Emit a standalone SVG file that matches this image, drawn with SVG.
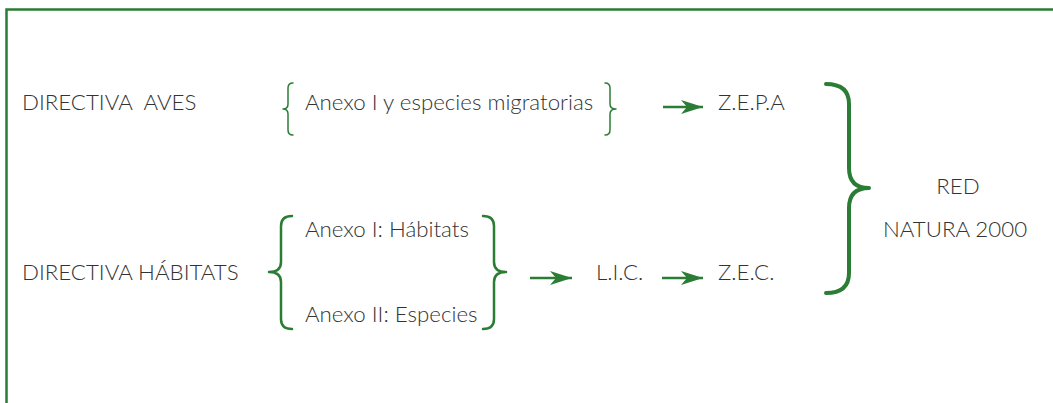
<svg xmlns="http://www.w3.org/2000/svg" width="1053" height="403" viewBox="0 0 1053 403">
<style>
text{font-family:Lato,"Open Sans","Liberation Sans",sans-serif;font-weight:300;font-size:22.3px;fill:#333}
.br{fill:none;stroke:#2b7d35;stroke-linecap:round;stroke-linejoin:round}
.thin{stroke-width:1.5}
.mid{stroke-width:2.5}
.big{stroke-width:4}
.ar{stroke:#2b7d35;stroke-width:2.5;fill:none}
</style>
<defs>
<marker id="ah" markerUnits="userSpaceOnUse" markerWidth="24" markerHeight="14" refX="22" refY="7" orient="auto">
<path d="M0,0 L22,7 L0,14 L6,7 Z" fill="#2b7d35"/>
</marker>
</defs>
<rect width="1053" height="403" fill="#fff"/>
<g id="frame">
<path d="M1053,9.5 H6.5 V403" fill="none" stroke="#2b7d35" stroke-width="2.5"/>
</g>
<g id="directiva-aves"><text x="22" y="110" xml:space="preserve">DIRECTIVA  AVES</text></g>
<g id="anexo-aves">
<path class="br thin" d="M293,83 Q288,83 288,88 L288,104 Q288,109 283,109 Q288,109 288,114 L288,130 Q288,135 293,135"/>
<text x="305" y="110">Anexo I y especies migratorias</text>
<path class="br thin" d="M605,83 Q610,83 610,88 L610,104 Q610,109 616,109 Q610,109 610,114 L610,130 Q610,135 605,135"/>
</g>
<g id="zepa"><text x="718" y="110">Z.E.P.A</text></g>
<g id="directiva-habitats"><text x="22" y="280">DIRECTIVA HÁBITATS</text></g>
<g id="anexos-habitats">
<path class="br mid" d="M292,216 Q281,216 281,226 L281,262 Q281,272 269,272 Q281,272 281,282 L281,319 Q281,329 292,329"/>
<text x="305" y="237">Anexo I: Hábitats</text>
<text x="305" y="322">Anexo II: Especies</text>
<path class="br mid" d="M483,216 Q494,216 494,226 L494,262 Q494,272 506,272 Q494,272 494,282 L494,319 Q494,329 483,329"/>
</g>
<g id="lic"><text x="596" y="280">L.I.C.</text></g>
<g id="zec"><text x="718" y="280">Z.E.C.</text></g>
<g id="red-natura">
<path class="br big" d="M826,84 Q849,84 849,104 L849,168 Q849,188 869,188 Q849,188 849,208 L849,273 Q849,293 826,293"/>
<text x="958" y="194" text-anchor="middle">RED</text>
<text x="955" y="237" text-anchor="middle">NATURA 2000</text>
</g>
<g id="connectors">
<line class="ar" x1="663" y1="107" x2="703" y2="107" marker-end="url(#ah)"/>
<line class="ar" x1="530" y1="278" x2="572" y2="278" marker-end="url(#ah)"/>
<line class="ar" x1="662" y1="278" x2="703" y2="278" marker-end="url(#ah)"/>
</g>
</svg>
